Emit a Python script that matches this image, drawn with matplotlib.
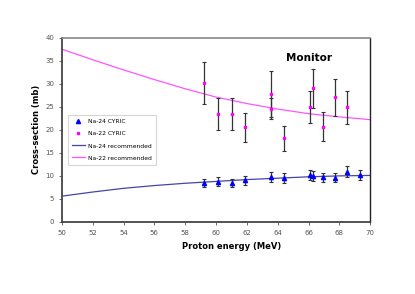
import matplotlib
matplotlib.use("Agg")
import matplotlib.pyplot as plt
from matplotlib.lines import Line2D

# measured points (CYRIC)
na24_e = [59.25, 60.13, 61.02, 61.88, 63.59, 64.43, 66.09, 66.29, 66.92, 67.72, 68.51, 69.31]
na24_xs = [8.4, 8.7, 8.5, 9.0, 9.8, 9.6, 10.2, 9.9, 9.7, 9.6, 10.85, 10.2]
na24_err = [0.9, 1.0, 0.9, 1.0, 1.15, 1.1, 1.1, 1.1, 1.0, 1.0, 1.2, 1.1]

na22_e = [59.25, 60.13, 61.02, 61.88, 63.59, 63.59, 64.43, 66.09, 66.29, 66.92, 67.72, 68.51]
na22_xs = [30.15, 23.5, 23.4, 20.5, 27.8, 24.6, 18.15, 24.9, 29.0, 20.7, 27.1, 24.9]
na22_err = [4.5, 3.5, 3.5, 3.1, 5.0, 2.3, 2.7, 3.5, 4.2, 3.1, 4.0, 3.6]

# recommended curves
rec_e = [50, 52, 54, 56, 58, 60, 62, 64, 66, 68, 70]
rec_na24 = [5.6, 6.5, 7.3, 7.9, 8.4, 8.8, 9.2, 9.5, 9.8, 10.0, 10.1]
rec_na22 = [37.5, 35.2, 33.0, 30.9, 28.9, 27.1, 25.7, 24.5, 23.5, 22.8, 22.2]

fig = plt.figure(figsize=(4.15, 2.94), dpi=100)
ax = fig.add_axes([0.149, 0.245, 0.743, 0.627])

ax.errorbar(na24_e, na24_xs, yerr=na24_err, fmt='^', color='blue', ms=3,
            ecolor='#333333', elinewidth=0.9, capsize=1.5, capthick=0.8, zorder=4)
ax.errorbar(na22_e, na22_xs, yerr=na22_err, fmt='s', color='#ff00ff', ms=2,
            ecolor='#333333', elinewidth=0.9, capsize=1.5, capthick=0.8, zorder=4)
ax.plot(rec_e, rec_na24, color='#4444aa', lw=0.9)
ax.plot(rec_e, rec_na22, color='#ff55ff', lw=0.9)

ax.set_xlim(50, 70)
ax.set_ylim(0, 40)
ax.set_xticks(range(50, 71, 2))
ax.set_yticks(range(0, 41, 5))
ax.tick_params(labelsize=5, colors='#555555', length=2, width=0.6)

for s in ['left', 'bottom']:
    ax.spines[s].set_color('#444444')
    ax.spines[s].set_linewidth(1.3)
ax.spines['top'].set_color('#888888')
ax.spines['top'].set_linewidth(1.2)
ax.spines['right'].set_color('#222222')
ax.spines['right'].set_linewidth(1.0)

ax.set_xlabel('Proton energy (MeV)', fontsize=6, fontweight='bold')
ax.xaxis.set_label_coords(0.55, -0.11)
ax.set_ylabel('Cross-section (mb)', fontsize=6, fontweight='bold', labelpad=3)

ax.text(66.0, 35.6, 'Monitor', fontsize=7.5, fontweight='bold', ha='center', va='center')

handles = [
    Line2D([], [], ls='none', marker='^', color='blue', ms=3),
    Line2D([], [], ls='none', marker='s', color='#ff00ff', ms=2),
    Line2D([], [], color='#4444aa', lw=0.9),
    Line2D([], [], color='#ff55ff', lw=0.9),
]
labels = ['Na-24 CYRIC', 'Na-22 CYRIC', 'Na-24 recommended', 'Na-22 recommended']
leg = ax.legend(handles, labels, loc='upper left', bbox_to_anchor=(0.019, 0.58),
                fontsize=4.3, frameon=True, handlelength=2.2, labelspacing=1.15,
                borderpad=0.7, handletextpad=0.5, borderaxespad=0, fancybox=False)
leg.get_frame().set_edgecolor('#cccccc')
leg.get_frame().set_linewidth(0.8)

fig.savefig('out.png', dpi=100)
